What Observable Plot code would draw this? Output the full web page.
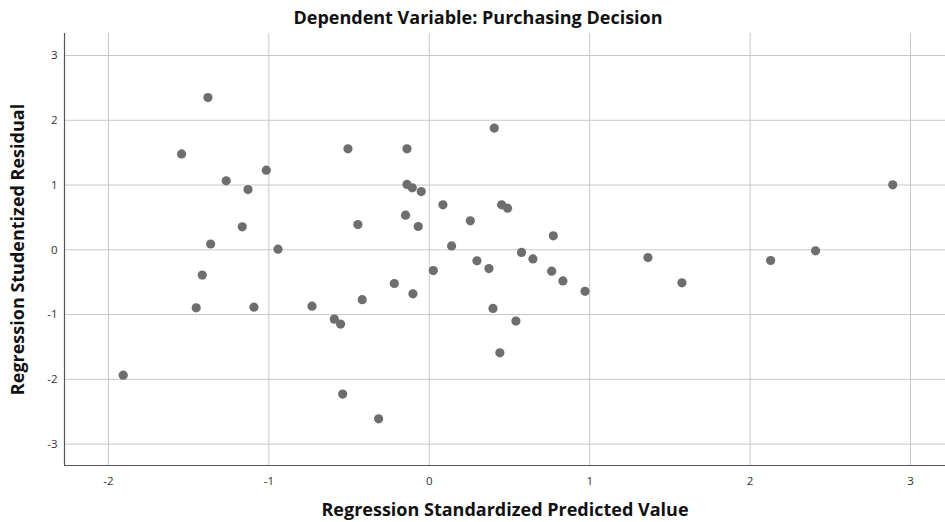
<!DOCTYPE html>
<html>
<head>
<meta charset="utf-8">
<script src="https://cdn.jsdelivr.net/npm/d3@7"></script>
<script src="https://cdn.jsdelivr.net/npm/@observablehq/plot@0.6"></script>
<style>
  html, body { margin: 0; padding: 0; background: #fff; }
  #chart { width: 945px; height: 522px; }
</style>
</head>
<body>
<div id="chart"></div>
<script>
const title = "Dependent Variable: Purchasing Decision";
const xLabel = "Regression Standardized Predicted Value";
const yLabel = "Regression Studentized Residual";
const xTicks = [-2, -1, 0, 1, 2, 3];
const yTicks = [-3, -2, -1, 0, 1, 2, 3];
const xDomain = [-2.274, 3.218];
const yDomain = [-3.33, 3.34];

// Regression standardized predicted values
const predicted = [
  -1.908, -1.544, -1.453, -1.415, -1.38, -1.363, -1.266, -1.166, -1.13, -1.093,
  -1.016, -0.943, -0.731, -0.592, -0.553, -0.54, -0.507, -0.445, -0.418, -0.316,
  -0.218, -0.148, -0.139, -0.139, -0.106, -0.102, -0.069, -0.05, 0.025, 0.085,
  0.139, 0.256, 0.297, 0.372, 0.397, 0.405, 0.44, 0.451, 0.488, 0.54,
  0.575, 0.646, 0.763, 0.773, 0.833, 0.971, 1.363, 1.575, 2.128, 2.408, 2.889
];
// Regression studentized residuals
const residual = [
  -1.935, 1.48, -0.895, -0.39, 2.35, 0.09, 1.065, 0.355, 0.93, -0.885,
  1.23, 0.01, -0.87, -1.07, -1.147, -2.227, 1.56, 0.39, -0.77, -2.61,
  -0.52, 0.535, 1.56, 1.01, 0.957, -0.68, 0.36, 0.90, -0.32, 0.695,
  0.06, 0.448, -0.17, -0.29, -0.905, 1.88, -1.59, 0.695, 0.643, -1.10,
  -0.04, -0.14, -0.33, 0.216, -0.48, -0.64, -0.119, -0.51, -0.165, -0.015, 1.003
];

const data = predicted.map((x, i) => ({x, y: residual[i]}));
const fmt = d => String(d);

const chart = Plot.plot({
  width: 945,
  height: 522,
  marginTop: 33,
  marginBottom: 57,
  marginLeft: 64,
  marginRight: 0,
  style: {fontFamily: "'Open Sans', sans-serif", background: "#fff", overflow: "visible"},
  x: {domain: xDomain},
  y: {domain: yDomain},
  marks: [
    Plot.gridX(xTicks, {stroke: "#c8c8c8", strokeOpacity: 1, strokeWidth: 1}),
    Plot.gridY(yTicks, {stroke: "#c8c8c8", strokeOpacity: 1, strokeWidth: 1}),
    Plot.ruleX([xDomain[0]], {stroke: "#555", strokeWidth: 1.2}),
    Plot.ruleY([yDomain[0]], {stroke: "#555", strokeWidth: 1.2}),
    Plot.axisX(xTicks, {tickSize: 0, tickPadding: 11, tickFormat: fmt, fontSize: 11.5, fill: "#333", label: null}),
    Plot.axisY(yTicks, {tickSize: 0, tickPadding: 7, tickFormat: fmt, fontSize: 11.5, fill: "#333", label: null}),
    Plot.dot(data, {x: "x", y: "y", r: 4.6, fill: "#6e6e6e", stroke: "none"}),
    Plot.text([title], {frameAnchor: "top", textAnchor: "middle", lineAnchor: "middle", dy: -15, dx: -27, fontSize: 18, fontWeight: "bold", fill: "#111"}),
    Plot.text([xLabel], {frameAnchor: "bottom", textAnchor: "middle", lineAnchor: "middle", dy: 45, fontSize: 18, fontWeight: "bold", fill: "#111"}),
    Plot.text([yLabel], {frameAnchor: "left", textAnchor: "middle", lineAnchor: "middle", rotate: -90, dx: -46, fontSize: 18, fontWeight: "bold", fill: "#111"})
  ]
});
document.getElementById("chart").appendChild(chart);
</script>
</body>
</html>
